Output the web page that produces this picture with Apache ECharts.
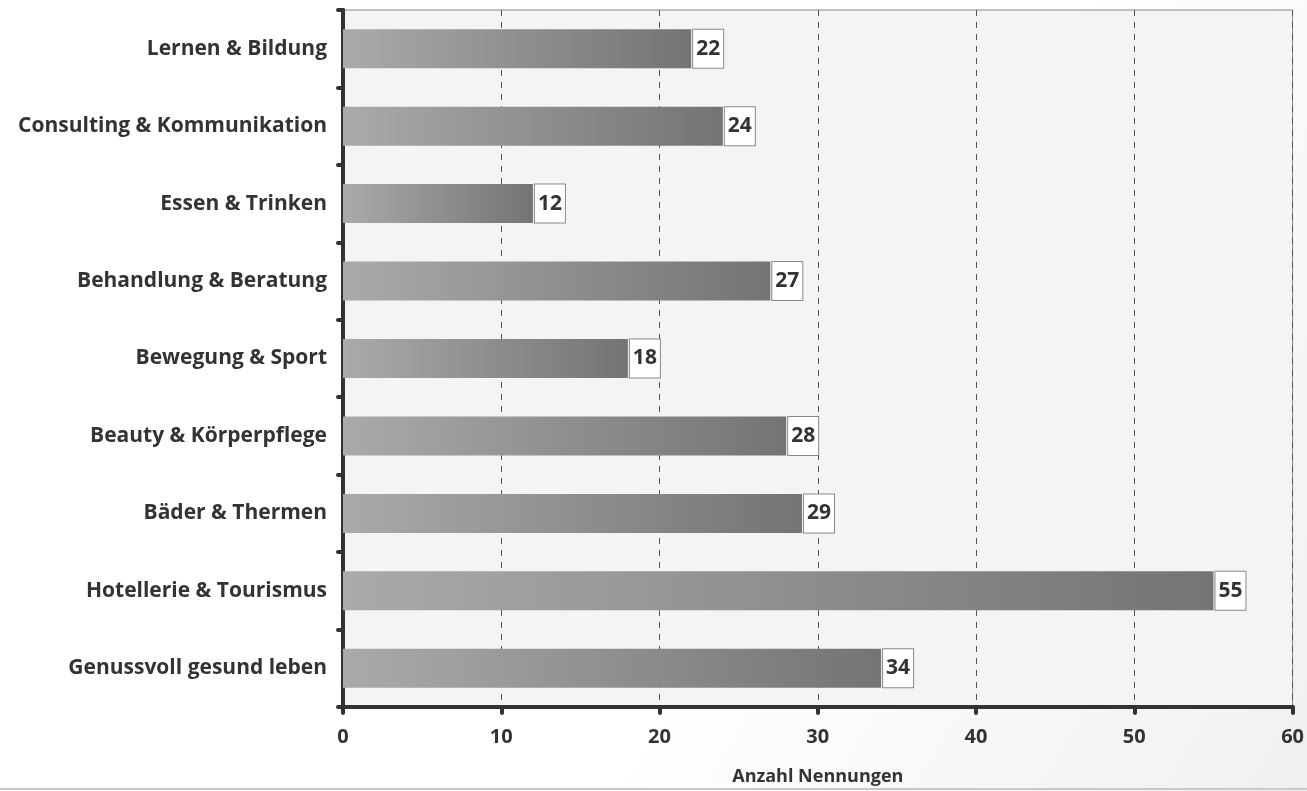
<!DOCTYPE html>
<html>
<head>
	<meta charset="utf-8" />
	<title>Anzahl Nennungen</title>
	<script src="https://cdn.jsdelivr.net/npm/echarts@6/dist/echarts.min.js"></script>
	<style>
		html, body { margin: 0; padding: 0; background: #fff; }
		#main { width: 1307px; height: 791px; }
	</style>
</head>
<body>
	<div id="main"></div>

	<script type="text/javascript">
		// Kategorien von oben nach unten
		var categories = ['Lernen & Bildung', 'Consulting & Kommunikation', 'Essen & Trinken', 'Behandlung & Beratung', 'Bewegung & Sport', 'Beauty & Körperpflege', 'Bäder & Thermen', 'Hotellerie & Tourismus', 'Genussvoll gesund leben'];
		var values = [22, 24, 12, 27, 18, 28, 29, 55, 34];
		var xTicks = [0, 10, 20, 30, 40, 50, 60];

		var font = 'Open Sans';
		var myChart = echarts.init(document.getElementById('main'));

		var option = {
			backgroundColor: {
				type: 'linear', x: 0, y: 0, x2: 1, y2: 1,
				colorStops: [{offset: 0, color: '#ffffff'}, {offset: 0.6, color: '#ffffff'}, {offset: 1, color: '#f0f0f0'}]
			},
			textStyle: { fontFamily: font },
			graphic: [{
				type: 'rect',
				shape: { x: 0, y: 788, width: 1307, height: 2 },
				style: { fill: '#c8c8c8' },
				silent: true
			}],
			grid: {
				left: 343, right: 14, top: 10, bottom: 84,
				show: true,
				backgroundColor: '#f4f4f4',
				borderColor: '#888',
				borderWidth: 1
			},
			xAxis: {
				type: 'value',
				min: xTicks[0],
				max: xTicks[xTicks.length - 1],
				interval: 10,
				name: 'Anzahl Nennungen',
				nameLocation: 'middle',
				nameGap: 61,
				nameTextStyle: { color: '#333', fontSize: 18, fontWeight: 'bold', fontFamily: font },
				axisLine: { show: true, lineStyle: { color: '#333', width: 4, cap: 'round' } },
				axisTick: { show: true, length: 6, lineStyle: { color: '#333', width: 4, cap: 'round' } },
				axisLabel: { color: '#333', fontSize: 20, fontWeight: 'bold', fontFamily: font, margin: 20 },
				splitLine: { show: true, lineStyle: { color: '#555', width: 1, type: [6, 6] } }
			},
			yAxis: {
				type: 'category',
				inverse: true,
				data: categories,
				axisLine: { show: true, lineStyle: { color: '#333', width: 4, cap: 'round' } },
				axisTick: { show: true, length: 5, lineStyle: { color: '#333', width: 4, cap: 'round' } },
				axisLabel: { color: '#333', fontSize: 21, fontWeight: 'bold', fontFamily: font, margin: 16 },
				splitLine: { show: false }
			},
			series: [{
				type: 'bar',
				data: values,
				barWidth: 39,
				itemStyle: {
					color: {
						type: 'linear', x: 0, y: 0, x2: 1, y2: 0,
						colorStops: [{offset: 0, color: '#aaaaaa'}, {offset: 1, color: '#747474'}]
					}
				},
				label: {
					show: true,
					position: 'right',
					distance: 2,
					color: '#333',
					fontSize: 21,
					fontWeight: 'bold',
					fontFamily: font,
					lineHeight: 23,
					backgroundColor: '#fff',
					borderColor: '#888',
					borderWidth: 1,
					padding: [8, 3, 7, 3]
				}
			}]
		};

		myChart.setOption(option);
	</script>
</body>
</html>
